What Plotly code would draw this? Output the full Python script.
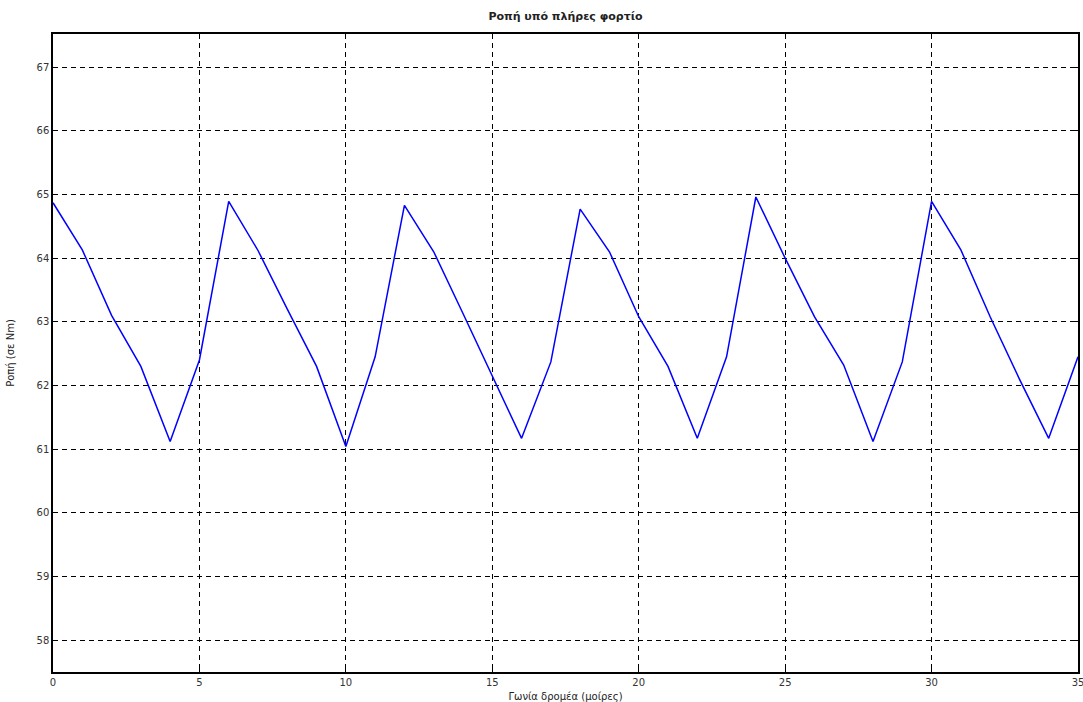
import plotly.graph_objects as go

# Rotor angle (degrees) and torque at full load (Nm)
angle_deg = list(range(0, 36))
torque_nm = [
    64.87, 64.13, 63.10, 62.30, 61.12, 62.40,
    64.89, 64.12, 63.20, 62.30, 61.04, 62.45,
    64.83, 64.10, 63.13, 62.16, 61.17, 62.37,
    64.77, 64.10, 63.08, 62.30, 61.17, 62.45,
    64.96, 64.00, 63.08, 62.32, 61.12, 62.37,
    64.89, 64.13, 63.08, 62.10, 61.17, 62.45,
]

x_ticks = [0, 5, 10, 15, 20, 25, 30, 35]
y_ticks = [58, 59, 60, 61, 62, 63, 64, 65, 66, 67]

title_text = "Ροπή υπό πλήρες φορτίο"
x_title = "Γωνία δρομέα (μοίρες)"
y_title = "Ροπή (σε Nm)"

font_family = "DejaVu Sans, Liberation Sans, Arial, sans-serif"

fig = go.Figure()
fig.add_trace(go.Scatter(
    x=angle_deg,
    y=torque_nm,
    mode="lines",
    line=dict(color="#0000ff", width=1.5),
    showlegend=False,
))

axis_common = dict(
    showline=True,
    linecolor="black",
    linewidth=1.5,
    mirror="ticks",
    ticks="inside",
    ticklen=5,
    tickwidth=1.2,
    tickcolor="black",
    showgrid=True,
    gridcolor="black",
    gridwidth=1.2,
    griddash="5px,4px",
    zeroline=False,
    automargin=False,
    ticklabeloverflow="allow",
    tickfont=dict(family=font_family, size=10, color="#333333"),
)

fig.update_xaxes(
    range=[0, 35],
    tickvals=x_ticks,
    title=dict(text=x_title, font=dict(family=font_family, size=10, color="#222222"),
               standoff=6),
    **axis_common,
)
fig.update_yaxes(
    range=[57.5, 67.52],
    tickvals=y_ticks,
    title=dict(text=y_title, font=dict(family=font_family, size=10, color="#222222"),
               standoff=20),
    **axis_common,
)

fig.update_layout(
    width=1083,
    height=702,
    margin=dict(l=53, r=5, t=34, b=30),
    paper_bgcolor="white",
    plot_bgcolor="white",
    title=dict(
        text="<b>" + title_text + "</b>",
        x=(53 + 1078) / 2 / 1083,
        xanchor="center",
        y=1 - 16 / 702,
        yanchor="middle",
        font=dict(family=font_family, size=11, color="#222222"),
    ),
)

fig.write_html("out.html")
